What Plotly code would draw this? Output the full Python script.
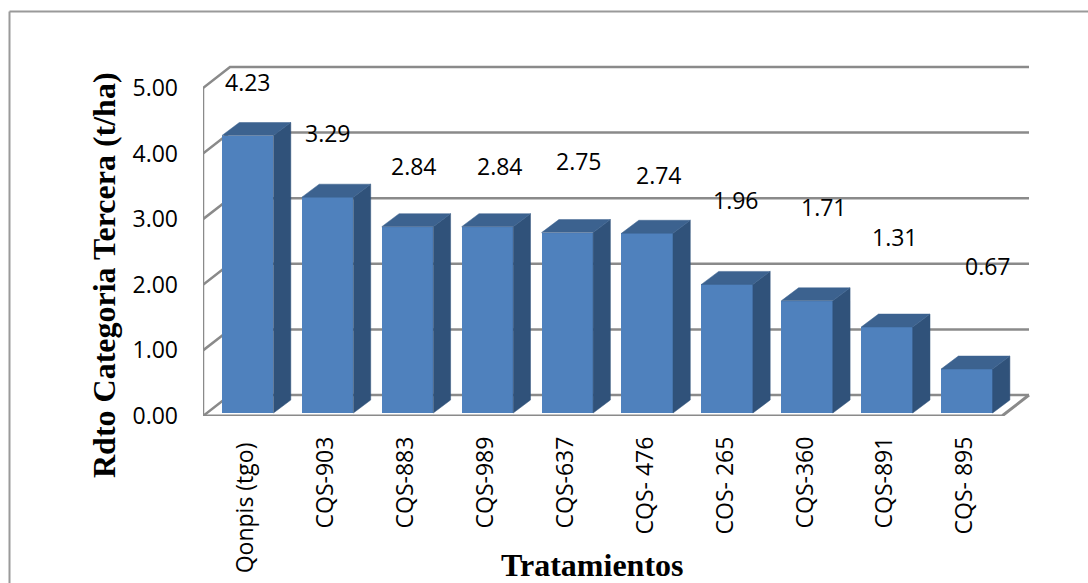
import plotly.graph_objects as go

# Yield per treatment
categories = ["Qonpis (tgo)\u00a0", "CQS-903", "CQS-883", "CQS-989", "CQS-637",
              "CQS- 476", "COS- 265", "CQS-360", "CQS-891", "CQS- 895"]
values = [4.23, 3.29, 2.84, 2.84, 2.75, 2.74, 1.96, 1.71, 1.31, 0.67]
y_ticks = [0, 1, 2, 3, 4, 5]

# Hand-placed data label offsets, in pixels from each bar's top
label_dx = [0, 0.5, 6.5, 12.7, 12, 12, 9, 17, 8.5, 21]
label_dy = [56.5, 67, 63.7, 63.7, 74.6, 61.3, 87.4, 96.8, 93, 106]

# Pixel scale of the axes and the oblique projection used for the 3-D look
PX_X, PX_Y = 79.9, 65.6
WALL_DX, WALL_DY = 27 / PX_X, 21 / PX_Y
DEPTH_DX, DEPTH_DY = 17.3 / PX_X, 13 / PX_Y
BAR_WIDTH = 51.5 / PX_X
BAR_SHIFT = 0.06
TICK_SHIFT = 0.035
BAR_BASE = 3 / PX_Y

GRID = "#8a8a8a"
FRAME = "#9a9a9a"
FRONT, SIDE, TOP = "#4f81bd", "#30527a", "#3c628f"
LABEL_FONT = "Open Sans"
TITLE_FONT = dict(family="Liberation Serif", size=32, color="#000")

ML, MR, MT, MB = 203, 48, 50, 167
W, H = 1088, 583
PLOT_W, PLOT_H = W - ML - MR, H - MB - MT


def paper_x(px):
    return (px - ML) / PLOT_W


def paper_y(py):
    return (H - MB - py) / PLOT_H


positions = list(range(len(values)))
centers = [p + BAR_SHIFT for p in positions]
tick_positions = [p + TICK_SHIFT for p in positions]
x_left, x_right = -0.5, len(values) - 0.5

fig = go.Figure()


def wall_line(xs, ys, width=2.5):
    # Polyline in data coordinates, kept underneath the bars
    path = "M " + " L ".join(f"{x},{y}" for x, y in zip(xs, ys))
    fig.add_shape(type="path", path=path, xref="x", yref="y", layer="below",
                  line=dict(color=GRID, width=width))


# Back wall gridlines, each with its diagonal along the side wall
for t in y_ticks:
    wall_line([x_left, x_left + WALL_DX, x_right + WALL_DX],
              [t, t + WALL_DY, t + WALL_DY])

# Floor edge and front-left vertical
wall_line([x_left, x_right, x_right + WALL_DX], [0, 0, WALL_DY], 3)
wall_line([x_left, x_left], [0, y_ticks[-1]], 2.5)

# Side and top faces of every bar
for c, v in zip(centers, values):
    xl, xr = c - BAR_WIDTH / 2, c + BAR_WIDTH / 2
    top = v + BAR_BASE
    fig.add_trace(go.Scatter(
        x=[xr, xr + DEPTH_DX, xr + DEPTH_DX, xr, xr],
        y=[BAR_BASE, BAR_BASE + DEPTH_DY, top + DEPTH_DY, top, BAR_BASE],
        mode="lines", fill="toself", fillcolor=SIDE, line=dict(color=SIDE, width=0.5),
        hoverinfo="skip", showlegend=False))
    fig.add_trace(go.Scatter(
        x=[xl, xl + DEPTH_DX, xr + DEPTH_DX, xr, xl],
        y=[top, top + DEPTH_DY, top + DEPTH_DY, top, top],
        mode="lines", fill="toself", fillcolor=TOP, line=dict(color=TOP, width=0.5),
        hoverinfo="skip", showlegend=False))

# Front faces
fig.add_trace(go.Bar(x=centers, y=values, base=BAR_BASE, width=BAR_WIDTH,
                     marker=dict(color=FRONT, line=dict(width=0)), showlegend=False))

# Data labels
for c, v, dx, dy in zip(centers, values, label_dx, label_dy):
    fig.add_annotation(x=c, y=v, xref="x", yref="y", text=f"{v:.2f}", showarrow=False,
                       xshift=dx, yshift=dy, font=dict(family=LABEL_FONT, size=23, color="#000"))

# Axis titles
fig.add_annotation(x=paper_x(592), y=paper_y(565), xref="paper", yref="paper",
                   xanchor="center", yanchor="middle", text="<b>Tratamientos</b>",
                   showarrow=False, font=TITLE_FONT)
fig.add_annotation(x=paper_x(104), y=paper_y(275), xref="paper", yref="paper",
                   xanchor="center", yanchor="middle", textangle=-90,
                   text="<b>Rdto Categoria Tercera (t/ha)</b>", showarrow=False,
                   font=TITLE_FONT)

# Outer chart frame: left and top edges run off the page
fig.add_shape(type="line", xref="paper", yref="paper", layer="above",
              x0=paper_x(9.5), x1=paper_x(W), y0=paper_y(11.5), y1=paper_y(11.5),
              line=dict(color=FRAME, width=2))
fig.add_shape(type="line", xref="paper", yref="paper", layer="above",
              x0=paper_x(9.5), x1=paper_x(9.5), y0=paper_y(11.5), y1=paper_y(H),
              line=dict(color=FRAME, width=2))

fig.update_layout(
    width=W, height=H, margin=dict(l=ML, r=MR, t=MT, b=MB, autoexpand=False),
    paper_bgcolor="white", plot_bgcolor="white", bargap=0,
    xaxis=dict(range=[x_left, x_left + PLOT_W / PX_X], tickmode="array",
               tickvals=tick_positions, ticktext=categories, tickangle=-90, ticks="",
               ticklabelstandoff=15, showgrid=False, zeroline=False, showline=False,
               tickfont=dict(family=LABEL_FONT, size=23, color="#000")),
    yaxis=dict(range=[0, PLOT_H / PX_Y], tickmode="array", tickvals=y_ticks,
               tickformat=".2f", ticks="", ticklabelstandoff=24, showgrid=False,
               zeroline=False, showline=False,
               tickfont=dict(family=LABEL_FONT, size=23, color="#000")),
)

fig.write_html("out.html")
